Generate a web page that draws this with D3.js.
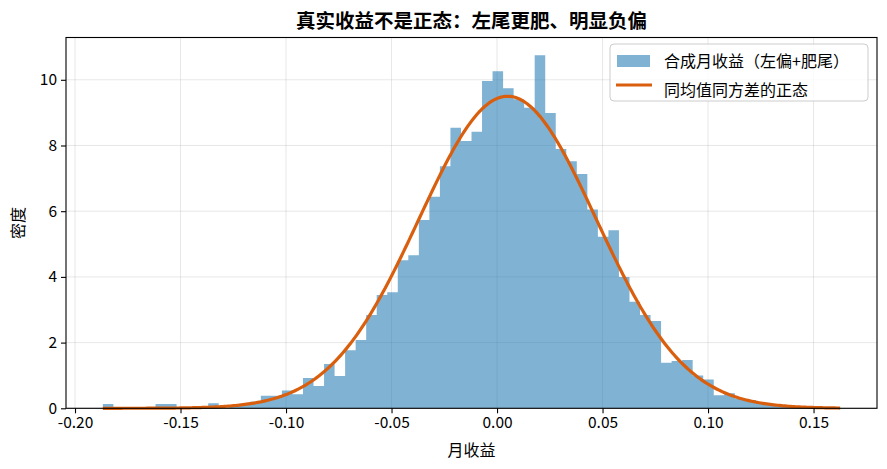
<!DOCTYPE html>
<html>
<head>
<meta charset="utf-8">
<script src="https://cdn.jsdelivr.net/npm/d3@7"></script>
<style>
  body { margin: 0; background: #fff; }
  text { font-family: "Noto Sans CJK SC", "Noto Sans", sans-serif; fill: #000; }
</style>
</head>
<body>
<div id="chart"></div>
<script>
(function(d3) {

// histogram: 70 bins between the sample min and max, values are densities
var binStart = -0.1868, binEnd = 0.1626;
var density = [
  0.13, 0, 0, 0, 0, 0.13, 0.13, 0, 0, 0,
  0.15, 0, 0.07, 0.13, 0.2, 0.38, 0.38, 0.54, 0.43, 0.92,
  0.68, 1.35, 0.98, 1.77, 2.08, 2.84, 3.45, 3.53, 4.51, 4.66,
  5.73, 6.44, 7.37, 8.54, 8.14, 8.42, 9.96, 10.26, 9.74, 9.41,
  9.15, 10.75, 8.99, 7.89, 7.52, 7.13, 6.05, 5.22, 5.42, 4.00,
  3.24, 2.84, 2.66, 1.39, 1.44, 1.47, 1.00, 0.88, 0.40, 0.46,
  0.30, 0.25, 0.17, 0.10, 0.07, 0.04, 0.03, 0, 0, 0.03
];
// normal with the same mean / std
var mu = 0.005, sigma = 0.042;

var xTicks = [-0.20, -0.15, -0.10, -0.05, 0.00, 0.05, 0.10, 0.15];
var yTicks = [0, 2, 4, 6, 8, 10];
var legendLabels = ["合成月收益（左偏+肥尾）", "同均值同方差的正态"];

var margin = {top: 37.5, right: 10, bottom: 60.7, left: 66},
    W = 887, H = 469,
    width = W - margin.left - margin.right,
    height = H - margin.top - margin.bottom;

var pad = (binEnd - binStart) * 0.05;
var x = d3.scaleLinear().domain([binStart - pad, binEnd + pad]).range([0, width]);
var y = d3.scaleLinear().domain([0, d3.max(density) * 1.05]).range([height, 0]);

var svg = d3.select("#chart").append("svg")
    .attr("width", W)
    .attr("height", H);

var g = svg.append("g")
    .attr("transform", "translate(" + margin.left + "," + margin.top + ")");

// grid
g.selectAll("line.gx").data(xTicks).enter().append("line")
    .attr("x1", function(d) { return x(d); }).attr("x2", function(d) { return x(d); })
    .attr("y1", 0).attr("y2", height)
    .attr("stroke", "#b0b0b0").attr("stroke-opacity", 0.3).attr("stroke-width", 1);
g.selectAll("line.gy").data(yTicks).enter().append("line")
    .attr("y1", function(d) { return y(d); }).attr("y2", function(d) { return y(d); })
    .attr("x1", 0).attr("x2", width)
    .attr("stroke", "#b0b0b0").attr("stroke-opacity", 0.3).attr("stroke-width", 1);

// bars, one path so neighbouring bars have no seams
var bw = (binEnd - binStart) / density.length;
var barPath = d3.path();
density.forEach(function(v, i) {
  if (v <= 0) return;
  var x0 = x(binStart + i * bw), x1 = x(binStart + (i + 1) * bw);
  barPath.rect(x0, y(v), x1 - x0, y(0) - y(v));
});
g.append("path")
    .attr("d", barPath.toString())
    .attr("fill", "#1f77b4")
    .attr("fill-opacity", 0.57);

// normal curve
var curve = d3.range(0, 401).map(function(k) {
  var v = binStart + (binEnd - binStart) * k / 400;
  var z = (v - mu) / sigma;
  return [v, Math.exp(-0.5 * z * z) / (sigma * Math.sqrt(2 * Math.PI))];
});
g.append("path")
    .datum(curve)
    .attr("fill", "none")
    .attr("stroke", "#d95f0e")
    .attr("stroke-width", 3.2)
    .attr("stroke-linejoin", "round")
    .attr("d", d3.line().x(function(d) { return x(d[0]); }).y(function(d) { return y(d[1]); }));

// axes
var fmt = d3.format(".2f");
var xAxis = g.append("g")
    .attr("transform", "translate(0," + height + ")")
    .call(d3.axisBottom(x).tickValues(xTicks)
      .tickFormat(function(d) { return fmt(d).replace("−", "-"); })
      .tickSize(5).tickPadding(4));
var yAxis = g.append("g")
    .call(d3.axisLeft(y).tickValues(yTicks).tickSize(5).tickPadding(4));
[xAxis, yAxis].forEach(function(a) {
  a.select(".domain").remove();
  a.selectAll("line").attr("stroke", "#000").attr("stroke-width", 1.1);
  a.selectAll("text").attr("font-size", 15.5).attr("fill", "#000")
      .style("font-family", "'Noto Sans CJK SC', 'Noto Sans', sans-serif");
});

// frame
g.append("rect")
    .attr("width", width).attr("height", height)
    .attr("fill", "none").attr("stroke", "#000").attr("stroke-width", 1.1);

// labels
svg.append("text")
    .attr("x", margin.left + width / 2).attr("y", 28)
    .attr("text-anchor", "middle")
    .attr("font-size", 19.5).attr("font-weight", "bold")
    .text("真实收益不是正态：左尾更肥、明显负偏");
svg.append("text")
    .attr("x", margin.left + width / 2).attr("y", 456)
    .attr("text-anchor", "middle")
    .attr("font-size", 16)
    .text("月收益");
svg.append("text")
    .attr("transform", "translate(24," + (margin.top + height / 2) + ") rotate(-90)")
    .attr("text-anchor", "middle")
    .attr("font-size", 16)
    .text("密度");

// legend
var lg = svg.append("g").attr("transform", "translate(610,44)");
lg.append("rect")
    .attr("width", 258).attr("height", 57).attr("rx", 4)
    .attr("fill", "#fff").attr("fill-opacity", 0.8)
    .attr("stroke", "#cccccc").attr("stroke-width", 1);
lg.append("rect")
    .attr("x", 7).attr("y", 11).attr("width", 33).attr("height", 12)
    .attr("fill", "#1f77b4").attr("fill-opacity", 0.57);
lg.append("line")
    .attr("x1", 6).attr("x2", 42).attr("y1", 41).attr("y2", 41)
    .attr("stroke", "#d95f0e").attr("stroke-width", 3.2);
lg.selectAll("text.lab").data(legendLabels).enter().append("text")
    .attr("x", 54)
    .attr("y", function(d, i) { return 23 + i * 29; })
    .attr("font-size", 16)
    .text(function(d) { return d; });

})(window.d3);
</script>
</body>
</html>
